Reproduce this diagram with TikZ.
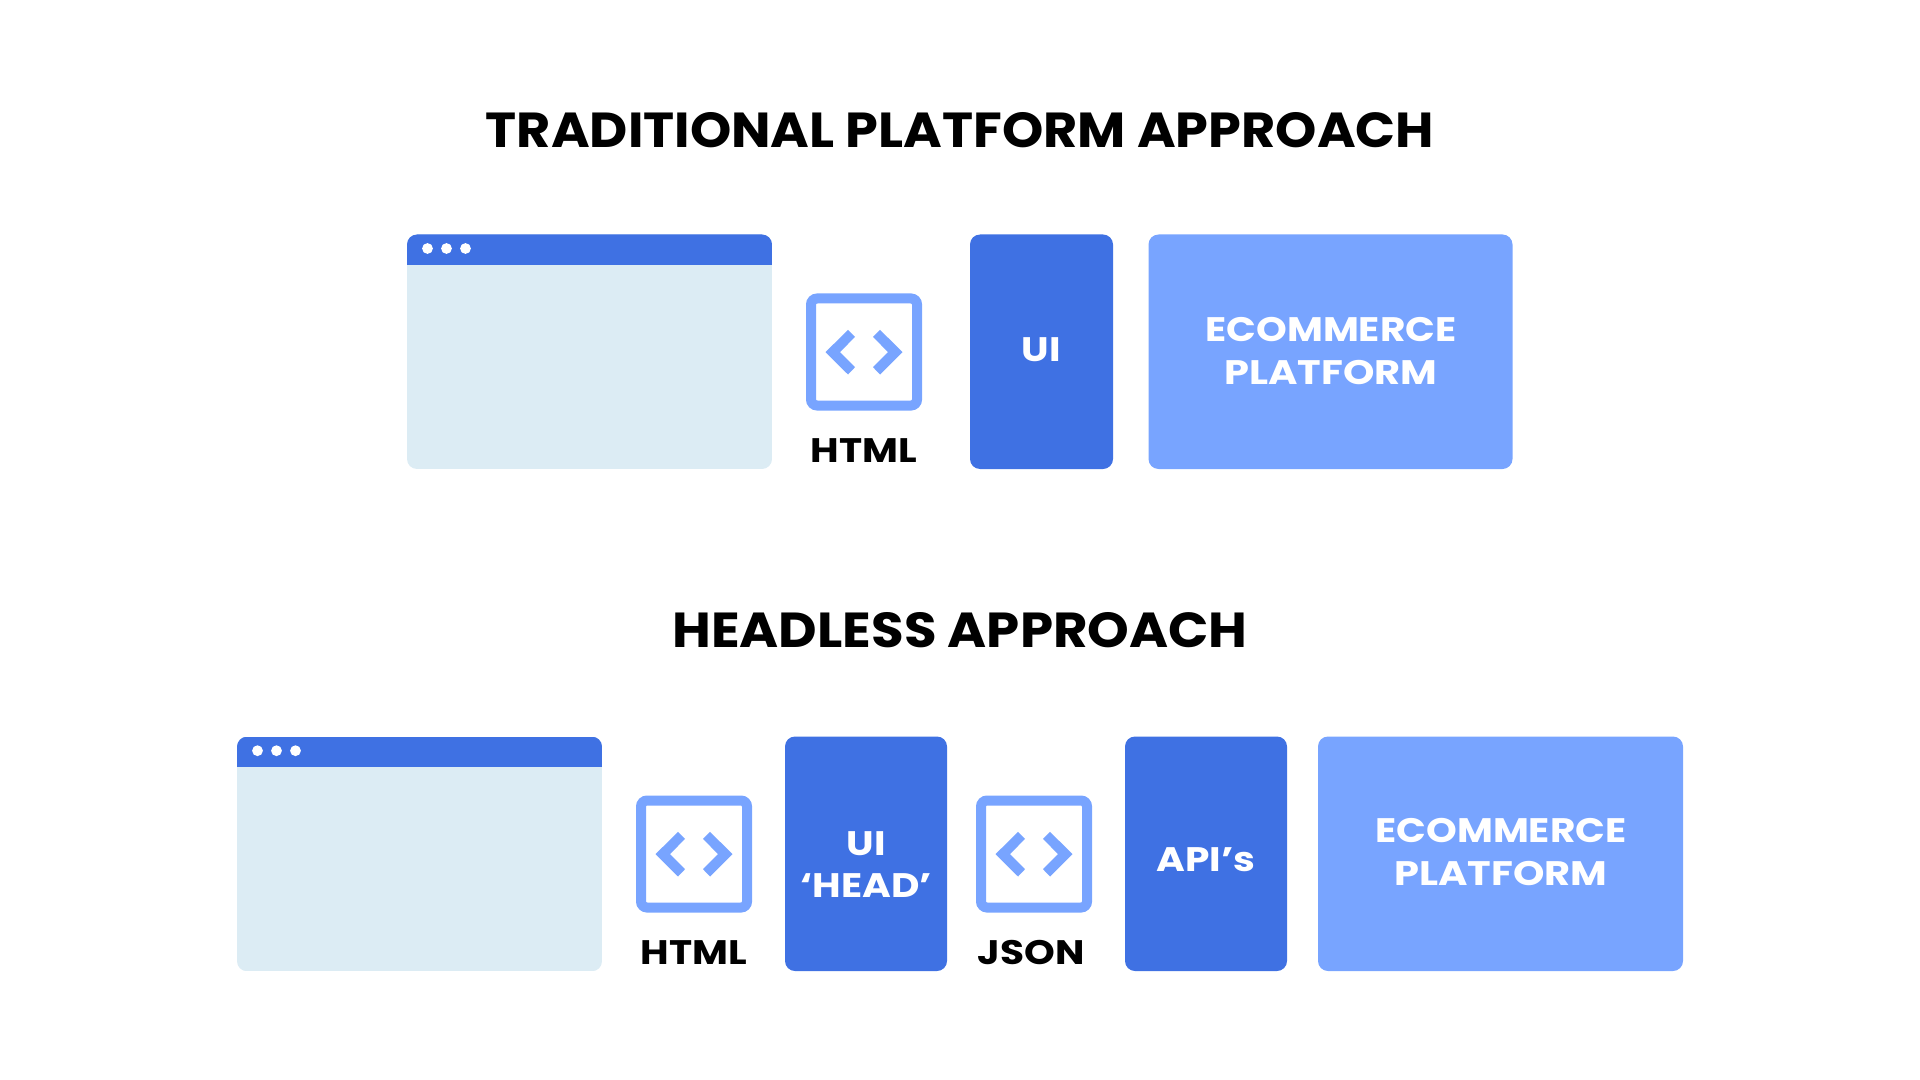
\documentclass[tikz,border=0pt]{standalone}
\usepackage{fontspec}
\setmainfont{Poppins}
\newfontfamily\titlefont[FakeStretch=1.068]{Poppins Bold}
\newfontfamily\titlewidefont[FakeStretch=1.078]{Poppins Bold}
\newfontfamily\labelfont[FakeStretch=1.15]{Poppins Bold}
\newfontfamily\labelwidefont[FakeStretch=1.175]{Poppins Bold}
\definecolor{bdark}{HTML}{3F71E3}
\definecolor{blight}{HTML}{78A4FF}
\definecolor{bpale}{HTML}{DCECF4}
\tikzset{
  x=0.5pt,y=-0.5pt,
  box/.style={inner sep=0,outer sep=0,rounded corners=5pt,anchor=north west},
  darkbox/.style={box,fill=bdark},
  lightbox/.style={box,fill=blight},
  title/.style={anchor=base,inner sep=0,font=\fontsize{24.6pt}{24.6pt}\titlefont,text=black},
  titlewide/.style={title,font=\fontsize{24.6pt}{24.6pt}\titlewidefont},
  caption/.style={anchor=base,inner sep=0,font=\fontsize{17pt}{17pt}\labelfont,text=black},
  boxtext/.style={anchor=base,inner sep=0,font=\fontsize{17pt}{17pt}\labelfont,text=white},
  boxtextwide/.style={boxtext,font=\fontsize{17pt}{17pt}\labelwidefont},
  browser/.pic={
    \begin{scope}
      \clip[rounded corners=5pt] (0,0) rectangle (365,234.5);
      \fill[bpale] (0,0) rectangle (365,234.5);
      \fill[bdark] (0,0) rectangle (365,30.5);
    \end{scope}
    \fill[white] (20.5,14) circle[radius=5.4] (39.5,14) circle[radius=5.4] (58.5,14) circle[radius=5.4];
  },
  codeicon/.pic={
    \draw[blight,line width=5pt,rounded corners=3pt,fill=white] (5,5) rectangle (111,112);
    \fill[blight] (19.5,58.7) -- (42,36.3) -- (49,43.3) -- (34,58.7) -- (49,73.7) -- (42,81) -- cycle;
    \fill[blight] (96.5,58.7) -- (74,36.3) -- (67,43.3) -- (82,58.7) -- (67,73.7) -- (74,81) -- cycle;
  }
}
\begin{document}
\begin{tikzpicture}
\useasboundingbox (0,0) rectangle (1920,1080);
\node[title] (t1) at (960,147.5) {TRADITIONAL PLATFORM APPROACH};
\node[titlewide] (t2) at (960,647) {HEADLESS APPROACH};

\pic at (407,234.5) {browser};
\pic at (806,293.5) {codeicon};
\node[caption] (html1) at (864,462) {HTML};
\node[darkbox,minimum width=71.5pt,minimum height=117.25pt] (ui) at (970,234.5) {};
\node[boxtext] (uit) at (1041,362) {UI};
\node[lightbox,minimum width=182pt,minimum height=117.25pt] (eco1) at (1148.5,234.5) {};
\node[boxtext] (eco1a) at (1331,342) {ECOMMERCE};
\node[boxtextwide] (eco1b) at (1331,385) {PLATFORM};

\pic at (237,736.7) {browser};
\pic at (636,795.5) {codeicon};
\node[caption] (html2) at (694,964) {HTML};
\node[darkbox,minimum width=81pt,minimum height=117.25pt] (head) at (785,736.5) {};
\node[boxtext] (heada) at (866,855) {UI};
\node[boxtext] (headb) at (866,897) {‘HEAD’};
\pic at (976,795.5) {codeicon};
\node[caption] (json) at (1031,964) {JSON};
\node[darkbox,minimum width=81pt,minimum height=117.25pt] (api) at (1125,736.5) {};
\node[boxtext] (apit) at (1206,871.5) {API’s};
\node[lightbox,minimum width=182.5pt,minimum height=117.25pt] (eco2) at (1318,736.5) {};
\node[boxtext] (eco2a) at (1501,842.5) {ECOMMERCE};
\node[boxtextwide] (eco2b) at (1501,885.5) {PLATFORM};
\end{tikzpicture}
\end{document}
